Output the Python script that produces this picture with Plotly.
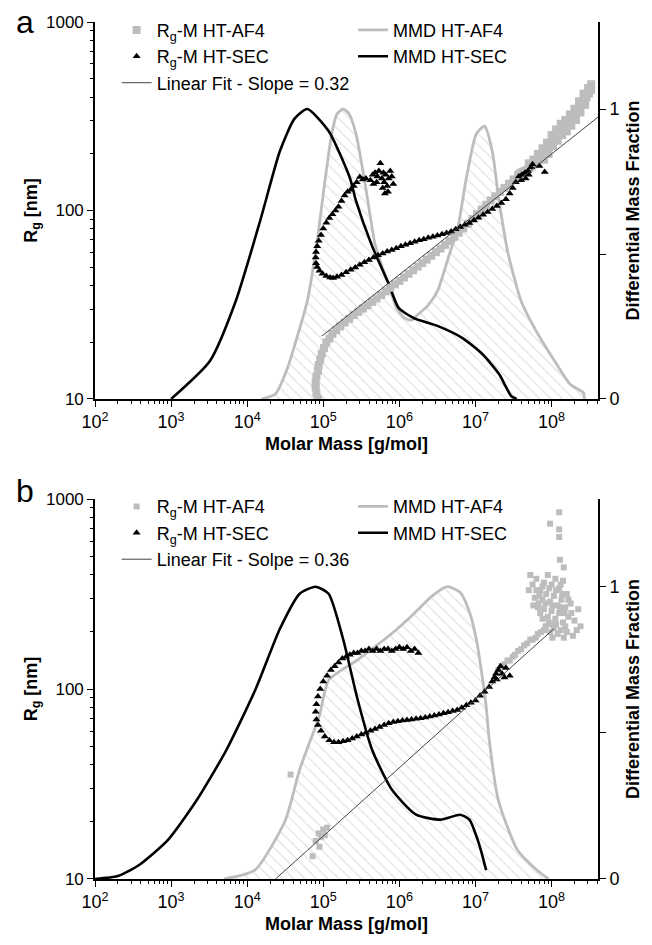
import plotly.graph_objects as go

# ---------------- panel a ----------------
# MMD curves: (log10 M, differential mass fraction)
a_sec_mmd = [(3.00, 0.0), (3.51, 0.131), (3.85, 0.338), (4.17, 0.614), (4.43, 0.855),
             (4.62, 0.966), (4.79, 1.0), (5.07, 0.924), (5.35, 0.762), (5.43, 0.683),
             (5.64, 0.528), (5.86, 0.397), (5.99, 0.314), (6.19, 0.279), (6.50, 0.252),
             (6.83, 0.21), (7.09, 0.155), (7.31, 0.086), (7.47, 0.01), (7.54, 0.0)]
a_af4_mmd = [(4.19, 0.0), (4.37, 0.017), (4.53, 0.107), (4.66, 0.217), (4.79, 0.338),
             (4.92, 0.545), (5.01, 0.728), (5.11, 0.914), (5.18, 0.983), (5.26, 1.0),
             (5.34, 0.983), (5.43, 0.914), (5.55, 0.741), (5.68, 0.534), (5.77, 0.459),
             (5.86, 0.397), (5.96, 0.314), (6.07, 0.279), (6.16, 0.272), (6.25, 0.293),
             (6.37, 0.321), (6.50, 0.372), (6.67, 0.51), (6.76, 0.579), (6.88, 0.762),
             (7.01, 0.914), (7.12, 0.941), (7.22, 0.855), (7.31, 0.683), (7.43, 0.5),
             (7.60, 0.338), (7.82, 0.224), (8.04, 0.131), (8.24, 0.052), (8.42, 0.021),
             (8.43, 0.0)]
# Rg-M data: (log10 M, log10 Rg)
a_af4_rg = [(4.93, 1.00), (4.91, 1.03), (4.90, 1.06), (4.90, 1.09), (4.91, 1.12), (4.93, 1.15),
            (4.94, 1.18), (4.96, 1.21), (4.98, 1.24), (5.01, 1.27), (5.04, 1.30), (5.08, 1.32),
            (5.12, 1.345), (5.17, 1.365), (5.22, 1.385), (5.28, 1.405), (5.34, 1.425),
            (5.40, 1.445), (5.46, 1.462), (5.52, 1.480), (5.58, 1.497), (5.64, 1.515),
            (5.70, 1.533), (5.76, 1.552), (5.82, 1.571), (5.88, 1.590), (5.94, 1.608),
            (6.00, 1.626), (6.06, 1.645), (6.12, 1.664), (6.18, 1.683), (6.24, 1.702),
            (6.30, 1.721), (6.36, 1.740), (6.42, 1.760), (6.48, 1.779), (6.54, 1.798),
            (6.60, 1.818), (6.66, 1.838), (6.72, 1.860), (6.78, 1.882), (6.84, 1.905),
            (6.90, 1.930), (6.96, 1.955), (7.02, 1.980), (7.08, 2.005), (7.14, 2.030),
            (7.20, 2.053), (7.26, 2.075), (7.32, 2.098), (7.38, 2.120), (7.44, 2.142),
            (7.50, 2.165), (7.56, 2.190), (7.62, 2.205), (7.68, 2.215), (7.74, 2.235),
            (7.80, 2.255), (7.86, 2.28), (7.92, 2.31), (7.98, 2.34), (8.04, 2.375),
            (8.10, 2.405), (8.16, 2.43), (8.22, 2.455), (8.28, 2.49), (8.34, 2.525),
            (8.40, 2.56), (8.46, 2.60), (8.52, 2.64),
            (7.59, 2.20), (7.65, 2.21), (7.71, 2.225), (7.77, 2.245), (7.83, 2.27),
            (7.89, 2.295), (7.95, 2.325), (8.01, 2.36), (8.07, 2.39), (8.13, 2.42),
            (8.19, 2.445), (8.25, 2.47), (8.31, 2.51), (8.37, 2.545), (8.43, 2.58),
            (8.49, 2.62),
            (7.70, 2.25), (7.76, 2.27), (7.82, 2.30), (7.88, 2.33), (7.94, 2.36),
            (8.00, 2.40), (8.06, 2.43), (8.12, 2.46), (8.18, 2.48), (8.24, 2.51),
            (8.30, 2.54), (8.36, 2.58), (8.42, 2.62), (8.48, 2.65), (8.52, 2.67),
            (7.90, 2.27), (7.96, 2.30), (8.02, 2.34), (8.08, 2.37), (8.14, 2.40),
            (8.20, 2.42), (8.26, 2.45), (8.32, 2.48), (8.38, 2.52), (8.44, 2.56)]
a_sec_rg = [(5.56, 2.17), (5.52, 2.165), (5.48, 2.178), (5.44, 2.15), (5.40, 2.13), (5.36, 2.11),
            (5.32, 2.10), (5.28, 2.08), (5.24, 2.05), (5.20, 2.02), (5.16, 2.00), (5.12, 1.98),
            (5.08, 1.96), (5.04, 1.935), (5.00, 1.905), (4.97, 1.87), (4.94, 1.84), (4.92, 1.81),
            (4.905, 1.78), (4.90, 1.75), (4.905, 1.72), (4.92, 1.70), (4.95, 1.68), (4.99, 1.665),
            (5.04, 1.652), (5.09, 1.645), (5.13, 1.642),
            (5.18, 1.648), (5.24, 1.658), (5.30, 1.672), (5.36, 1.685), (5.42, 1.698),
            (5.48, 1.712), (5.54, 1.725), (5.60, 1.737), (5.66, 1.750), (5.72, 1.762),
            (5.78, 1.772), (5.84, 1.782), (5.90, 1.791), (5.96, 1.800), (6.02, 1.810),
            (6.08, 1.818), (6.14, 1.826), (6.20, 1.834), (6.26, 1.842), (6.32, 1.848),
            (6.38, 1.855), (6.44, 1.861), (6.50, 1.868), (6.56, 1.874), (6.62, 1.880),
            (6.68, 1.888), (6.74, 1.900), (6.80, 1.912), (6.86, 1.924), (6.92, 1.934),
            (6.98, 1.948), (7.04, 1.962), (7.10, 1.977), (7.16, 1.992), (7.22, 2.008),
            (7.28, 2.024), (7.34, 2.040), (7.40, 2.06), (7.45, 2.09), (7.49, 2.12),
            (7.53, 2.15), (7.57, 2.18), (7.61, 2.19), (7.65, 2.20), (7.69, 2.21),
            (7.73, 2.23), (7.75, 2.245), (7.84, 2.236), (7.91, 2.204), (7.60, 2.16),
            (7.66, 2.17), (7.70, 2.19),
            (5.62, 2.16), (5.65, 2.19), (5.68, 2.20), (5.71, 2.18), (5.73, 2.21), (5.75, 2.25),
            (5.77, 2.17), (5.79, 2.20), (5.80, 2.15), (5.82, 2.19), (5.84, 2.13), (5.86, 2.17),
            (5.88, 2.21), (5.90, 2.18), (5.92, 2.14), (5.85, 2.10), (5.81, 2.09), (5.78, 2.12),
            (5.70, 2.15), (5.66, 2.14)]
a_fit_slope = 0.32
a_fit_logk = -0.26
a_fit_range = (4.98, 8.62)

# ---------------- panel b ----------------
b_sec_mmd = [(2.00, 0.0), (2.30, 0.01), (2.58, 0.048), (2.96, 0.134), (3.34, 0.271),
             (3.73, 0.443), (4.11, 0.649), (4.43, 0.856), (4.69, 0.976), (4.90, 1.0),
             (5.07, 0.976), (5.26, 0.821), (5.45, 0.615), (5.64, 0.443), (5.90, 0.306),
             (6.22, 0.22), (6.54, 0.203), (6.80, 0.22), (6.92, 0.203), (7.05, 0.117),
             (7.14, 0.03)]
b_af4_mmd = [(3.70, 0.0), (4.10, 0.03), (4.50, 0.2), (4.69, 0.375), (4.95, 0.56),
             (5.07, 0.68), (5.45, 0.75), (5.90, 0.84), (6.16, 0.9), (6.44, 0.97),
             (6.63, 1.0), (6.80, 0.98), (6.92, 0.914), (7.01, 0.821), (7.08, 0.708),
             (7.14, 0.591), (7.18, 0.478), (7.30, 0.27), (7.55, 0.1), (7.81, 0.03),
             (7.96, 0.0)]
b_af4_rg = [(4.57, 1.55), (4.86, 1.12), (4.90, 1.20), (4.94, 1.24), (4.97, 1.22), (5.00, 1.26),
            (5.02, 1.23), (4.95, 1.17), (5.05, 1.27),
            (7.30, 2.10), (7.38, 2.13), (7.45, 2.15), (7.52, 2.18), (7.60, 2.21), (7.68, 2.24),
            (7.75, 2.26), (7.82, 2.29), (7.90, 2.31), (7.97, 2.34), (8.04, 2.35),
            (7.34, 2.12), (7.42, 2.15), (7.49, 2.17), (7.56, 2.20), (7.64, 2.23), (7.72, 2.26),
            (7.79, 2.27), (7.86, 2.30),
            (7.75, 2.55), (7.80, 2.58), (7.85, 2.52), (7.90, 2.56), (7.95, 2.60), (8.00, 2.55),
            (8.05, 2.58), (8.10, 2.53), (8.15, 2.57), (8.20, 2.50), (7.78, 2.48), (7.83, 2.45),
            (7.88, 2.47), (7.93, 2.50), (7.98, 2.46), (8.03, 2.49), (8.08, 2.44), (8.13, 2.47),
            (8.18, 2.43), (8.25, 2.45), (7.85, 2.40), (7.90, 2.42), (7.95, 2.38), (8.00, 2.41),
            (8.05, 2.37), (8.10, 2.40), (8.15, 2.35), (8.22, 2.38), (8.30, 2.36), (8.38, 2.33),
            (7.92, 2.33), (7.98, 2.30), (8.03, 2.32), (8.08, 2.29), (8.12, 2.31), (8.20, 2.30),
            (8.28, 2.28), (7.70, 2.52), (7.72, 2.60), (8.35, 2.42),
            (7.80, 2.52), (7.88, 2.54), (7.97, 2.53), (8.06, 2.52), (8.12, 2.55), (7.84, 2.49),
            (7.92, 2.45), (8.01, 2.44), (8.11, 2.43), (8.17, 2.40), (7.88, 2.37), (7.96, 2.35),
            (8.06, 2.34), (8.18, 2.33), (8.26, 2.40), (8.33, 2.31), (7.82, 2.43), (8.22, 2.47),
            (8.14, 2.50), (7.76, 2.44), (8.01, 2.27), (8.16, 2.27),
            (8.10, 2.93), (7.98, 2.87), (8.10, 2.84), (8.10, 2.80), (8.11, 2.68), (8.16, 2.64)]
b_sec_rg = [(6.25, 2.19), (6.20, 2.21), (6.15, 2.20), (6.10, 2.22), (6.05, 2.21), (6.00, 2.22),
            (5.95, 2.21), (5.90, 2.20), (5.85, 2.21), (5.80, 2.21), (5.75, 2.20), (5.70, 2.21),
            (5.65, 2.20), (5.60, 2.21), (5.55, 2.20), (5.50, 2.20), (5.45, 2.19), (5.40, 2.19),
            (5.35, 2.18), (5.30, 2.17), (5.25, 2.16), (5.20, 2.14), (5.15, 2.12), (5.10, 2.10),
            (5.05, 2.07), (5.00, 2.04), (4.96, 2.00), (4.93, 1.96), (4.91, 1.92), (4.90, 1.88),
            (4.91, 1.84), (4.93, 1.81), (4.97, 1.78), (5.02, 1.75), (5.08, 1.73), (5.14, 1.72),
            (5.20, 1.72), (5.26, 1.725), (5.32, 1.73), (5.38, 1.74), (5.44, 1.75), (5.50, 1.76),
            (5.56, 1.77), (5.62, 1.78), (5.68, 1.79), (5.74, 1.80), (5.80, 1.81), (5.86, 1.82),
            (5.92, 1.826), (5.98, 1.83), (6.04, 1.834), (6.10, 1.837), (6.16, 1.84), (6.22, 1.843),
            (6.28, 1.846), (6.34, 1.85), (6.40, 1.855), (6.46, 1.86), (6.52, 1.866), (6.58, 1.872),
            (6.64, 1.878), (6.70, 1.884), (6.76, 1.890), (6.82, 1.902), (6.88, 1.915), (6.94, 1.928),
            (7.00, 1.94), (7.06, 1.965), (7.12, 1.985), (7.18, 2.01), (7.22, 2.04), (7.27, 2.08),
            (7.25, 2.06), (7.30, 2.10), (7.35, 2.08), (7.40, 2.11), (7.45, 2.07), (7.33, 2.12),
            (7.28, 2.05), (7.38, 2.06)]
b_fit_slope = 0.36
b_fit_logk = -0.574
b_fit_range = (4.37, 8.03)

mass_ticks = [2, 3, 4, 5, 6, 7, 8]

GRAY = "#bdbdbd"
FONT = "Liberation Sans, Arial, sans-serif"


def unzip(pairs, log_y=True):
    xs = [10 ** p[0] for p in pairs]
    ys = [10 ** p[1] if log_y else p[1] for p in pairs]
    return xs, ys


fig = go.Figure()


def add_panel(xa, y_mf, y_rg, sec_mmd, af4_mmd, af4_rg, sec_rg, fit, fit_label,
              leg_left, leg_right, sq_size):
    slope, logk, (m0, m1) = fit
    # hatched area under the AF4 distribution
    x, y = unzip(af4_mmd, log_y=False)
    fig.add_trace(go.Scatter(x=x, y=y, xaxis=xa, yaxis=y_mf, mode="lines",
                             line=dict(width=0, shape="spline", smoothing=0.6),
                             fill="tozeroy", fillcolor="rgba(0,0,0,0)",
                             fillpattern=dict(shape="\\", fgcolor="#bcbcbc", size=8,
                                              solidity=0.14),
                             showlegend=False, hoverinfo="skip"))
    fig.add_trace(go.Scatter(x=x, y=y, xaxis=xa, yaxis=y_mf, mode="lines",
                             line=dict(color=GRAY, width=2.8, shape="spline", smoothing=0.6),
                             name="MMD HT-AF4", legend=leg_right))
    x, y = unzip(sec_mmd, log_y=False)
    fig.add_trace(go.Scatter(x=x, y=y, xaxis=xa, yaxis=y_mf, mode="lines",
                             line=dict(color="black", width=2.6, shape="spline", smoothing=0.6),
                             name="MMD HT-SEC", legend=leg_right))
    x, y = unzip(af4_rg)
    fig.add_trace(go.Scatter(x=x, y=y, xaxis=xa, yaxis=y_rg, mode="markers",
                             marker=dict(symbol="square", size=sq_size, color=GRAY),
                             name="R<sub>g</sub>-M HT-AF4", legend=leg_left))
    x, y = unzip(sec_rg)
    fig.add_trace(go.Scatter(x=x, y=y, xaxis=xa, yaxis=y_rg, mode="markers",
                             marker=dict(symbol="triangle-up", size=7, color="black"),
                             name="R<sub>g</sub>-M HT-SEC", legend=leg_left))
    fit_m = [m0, m1]
    fig.add_trace(go.Scatter(x=[10 ** m for m in fit_m],
                             y=[10 ** (logk + slope * m) for m in fit_m],
                             xaxis=xa, yaxis=y_rg, mode="lines",
                             line=dict(color="#444444", width=1),
                             name=fit_label, legend=leg_left))


add_panel("x", "y", "y2", a_sec_mmd, a_af4_mmd, a_af4_rg, a_sec_rg,
          (a_fit_slope, a_fit_logk, a_fit_range), "Linear Fit - Slope = 0.32",
          "legend", "legend2", 8)
add_panel("x2", "y3", "y4", b_sec_mmd, b_af4_mmd, b_af4_rg, b_sec_rg,
          (b_fit_slope, b_fit_logk, b_fit_range), "Linear Fit - Solpe = 0.36",
          "legend3", "legend4", 6)

minor_mass = [k * 10 ** n for n in range(2, 9) for k in range(2, 10)]
minor_rg = [k * 10 ** n for n in range(1, 3) for k in range(2, 10)]

tickfont = dict(family=FONT, size=18, color="black")
titlefont = dict(family=FONT, size=18, color="black")


def xaxis(anchor):
    return dict(type="log", range=[2, 8.61], anchor=anchor, domain=[0, 1],
                tickvals=[10 ** t for t in mass_ticks],
                ticktext=["10<sup>%d</sup>" % t for t in mass_ticks],
                ticks="outside", ticklen=6, tickwidth=1.3, tickcolor="black",
                minor=dict(tickvals=minor_mass, ticks="outside", ticklen=3.5,
                           tickwidth=1.2, tickcolor="black"),
                showline=True, linecolor="black", linewidth=1.6, showgrid=False,
                zeroline=False, tickfont=tickfont,
                title=dict(text="<b>Molar Mass [g/mol]</b>", font=titlefont, standoff=6))


def mf_axis(domain, anchor):
    return dict(domain=domain, anchor=anchor, side="right", range=[0, 1.3],
                tickvals=[0, 0.5, 1], ticktext=["0", "", "1"],
                ticks="outside", ticklen=6, tickwidth=1.3, tickcolor="black",
                showline=True, linecolor="black", linewidth=1.6, showgrid=False,
                zeroline=False, tickfont=tickfont,
                title=dict(text="<b>Differential Mass Fraction</b>", font=titlefont,
                           standoff=8))


def rg_axis(over, anchor):
    return dict(type="log", range=[1, 3], overlaying=over, anchor=anchor, side="left",
                tickvals=[10, 100, 1000], ticktext=["10", "100", "1000"],
                ticks="outside", ticklen=6, tickwidth=1.3, tickcolor="black",
                minor=dict(tickvals=minor_rg, ticks="outside", ticklen=3.5,
                           tickwidth=1.2, tickcolor="black"),
                showline=True, linecolor="black", linewidth=1.6, showgrid=False,
                zeroline=False, tickfont=dict(family=FONT, size=17, color="black"),
                title=dict(text="<b>R<sub>g</sub> [nm]</b>", font=titlefont, standoff=4))


top_dom = [0.5601, 1.0]
bot_dom = [0.0, 0.4434]

legfont = dict(family=FONT, size=18, color="black")


def legend(x, y):
    return dict(x=x, y=y, xanchor="left", yanchor="top", bgcolor="rgba(0,0,0,0)",
                font=legfont, tracegroupgap=0, itemwidth=30)


fig.update_layout(
    width=652, height=945,
    margin=dict(l=95, r=40, t=22, b=66),
    paper_bgcolor="white", plot_bgcolor="white",
    font=dict(family=FONT, color="black"),
    xaxis=xaxis("y"),
    yaxis=mf_axis(top_dom, "x"),
    yaxis2=rg_axis("y", "x"),
    xaxis2=xaxis("y3"),
    yaxis3=mf_axis(bot_dom, "x2"),
    yaxis4=rg_axis("y3", "x2"),
    legend=legend(0.043, 1.012),
    legend2=legend(0.513, 1.012),
    legend3=legend(0.043, 0.456),
    legend4=legend(0.513, 0.456),
    annotations=[
        dict(text="a", xref="paper", yref="paper", x=-0.14, y=1.0, showarrow=False,
             xanchor="center", yanchor="middle", font=dict(family=FONT, size=32)),
        dict(text="b", xref="paper", yref="paper", x=-0.14, y=0.453, showarrow=False,
             xanchor="center", yanchor="middle", font=dict(family=FONT, size=32)),
    ],
)

fig.write_html("out.html")
